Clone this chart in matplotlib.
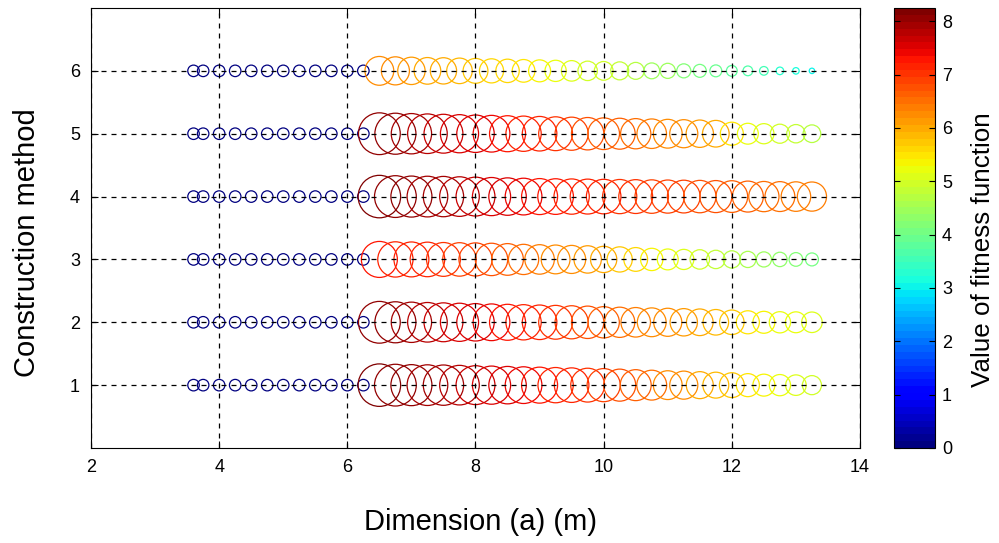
import numpy as np
import matplotlib
matplotlib.use("Agg")
import matplotlib.pyplot as plt
from matplotlib.colors import Normalize
from matplotlib.cm import ScalarMappable

plt.rcParams['font.family'] = ['Liberation Sans', 'DejaVu Sans']

# ---- data ----
x_blue = [3.6, 3.75, 4.0, 4.25, 4.5, 4.75, 5.0, 5.25, 5.5, 5.75, 6.0, 6.25]
x_col = [6.5, 6.75, 7.0, 7.25, 7.5, 7.75, 8.0, 8.25, 8.5, 8.75, 9.0, 9.25, 9.5, 9.75,
         10.0, 10.25, 10.5, 10.75, 11.0, 11.25, 11.5, 11.75, 12.0, 12.25, 12.5, 12.75,
         13.0, 13.25]
methods = [1, 2, 3, 4, 5, 6]
blue_value = 0.0

fit_m1 = [8.2, 8.1, 8.0, 7.95, 7.9, 7.8, 7.7, 7.6, 7.5, 7.4, 7.3, 7.2, 7.1, 7.0,
          6.9, 6.75, 6.6, 6.45, 6.3, 6.2, 6.05, 5.9, 5.75, 5.5, 5.35, 5.25, 5.15, 4.95]
fit_m2 = [8.1, 8.0, 7.9, 7.8, 7.7, 7.6, 7.5, 7.4, 7.3, 7.2, 7.1, 7.0, 6.9, 6.8,
          6.65, 6.5, 6.4, 6.3, 6.2, 6.1, 6.0, 5.85, 5.7, 5.5, 5.35, 5.25, 5.2, 5.15]
fit_m3 = [7.3, 7.2, 7.15, 7.1, 7.0, 6.95, 6.9, 6.8, 6.7, 6.5, 6.4, 6.3, 6.2, 6.1,
          5.95, 5.8, 5.6, 5.4, 5.2, 5.1, 5.0, 4.85, 4.7, 4.55, 4.4, 4.3, 4.2, 4.1]
fit_m4 = [8.2, 8.1, 8.0, 7.95, 7.9, 7.8, 7.7, 7.6, 7.5, 7.4, 7.3, 7.25, 7.2, 7.15,
          7.1, 7.05, 7.0, 6.95, 6.9, 6.85, 6.8, 6.75, 6.7, 6.6, 6.5, 6.45, 6.4, 6.35]
fit_m5 = [8.1, 8.0, 7.9, 7.8, 7.7, 7.6, 7.5, 7.4, 7.3, 7.2, 7.1, 7.0, 6.9, 6.8,
          6.7, 6.6, 6.5, 6.4, 6.3, 6.2, 6.1, 6.0, 5.5, 5.2, 5.1, 4.95, 4.85, 4.75]
fit_m6 = [6.3, 6.2, 6.1, 6.0, 5.95, 5.85, 5.75, 5.65, 5.55, 5.45, 5.35, 5.25, 5.15, 5.0,
          4.9, 4.8, 4.65, 4.5, 4.4, 4.25, 4.1, 3.95, 3.8, 3.65, 3.5, 3.35, 3.2, 3.05]
fitness = [fit_m1, fit_m2, fit_m3, fit_m4, fit_m5, fit_m6]

x_ticks = [2, 4, 6, 8, 10, 12, 14]
y_ticks = [1, 2, 3, 4, 5, 6]
cb_ticks = [0, 1, 2, 3, 4, 5, 6, 7, 8]
vmin, vmax = 0.0, 8.25

# ---- figure ----
W, H = 999, 543
fig = plt.figure(figsize=(W / 100, H / 100), dpi=100)
ax = fig.add_axes([91 / W, (H - 448) / H, 769 / W, 440 / H])
cax = fig.add_axes([894 / W, (H - 448) / H, 41 / W, 440 / H])

cmap = plt.get_cmap('jet', 64)
norm = Normalize(vmin=vmin, vmax=vmax)

def size_from_value(v):
    d_px = 7.2 * (np.asarray(v) - 2.3)
    return (d_px * 0.72) ** 2

blue_s = (11.5 * 0.72) ** 2
lw = 0.9

for m, vals in zip(methods, fitness):
    ax.scatter(x_blue, [m] * len(x_blue), s=blue_s, facecolors='none',
               edgecolors=[cmap(norm(blue_value))], linewidths=lw, zorder=2)
    vals = np.asarray(vals)
    ax.scatter(x_col, [m] * len(x_col), s=size_from_value(vals), facecolors='none',
               edgecolors=cmap(norm(vals)), linewidths=lw, zorder=2)

ax.set_xlim(2, 14)
ax.set_ylim(0, 7)
ax.set_xticks(x_ticks)
ax.set_yticks(y_ticks)
ax.grid(True, color='black', linestyle=(0, (4, 4)), linewidth=0.9, zorder=3)
ax.set_axisbelow(False)
ax.tick_params(direction='in', top=True, right=True, length=5, width=0.8,
               labelsize=13, pad=8)
for sp in ax.spines.values():
    sp.set_linewidth(0.8)
ax.set_xlabel('Dimension (a) (m)', fontsize=21)
ax.xaxis.label.set_va('center')
ax.xaxis.set_label_coords((481 - 91) / 769, (448 - 522) / 440)
ax.set_ylabel('Construction method', fontsize=21)
ax.yaxis.label.set_va('center')
ax.yaxis.set_label_coords((27 - 91) / 769, (448 - 243) / 440)

sm = ScalarMappable(norm=norm, cmap=cmap)
cb = fig.colorbar(sm, cax=cax, ticks=cb_ticks)
cb.outline.set_linewidth(0.8)
cax.tick_params(direction='in', left=True, right=True, length=4, width=0.8,
                labelsize=13, pad=5)
cb.set_label('Value of fitness function', fontsize=18.7)
cax.yaxis.label.set_va('center')
cax.yaxis.set_label_coords((983 - 894) / 41, (448 - 250) / 440)

fig.savefig('out.png', dpi=100)
